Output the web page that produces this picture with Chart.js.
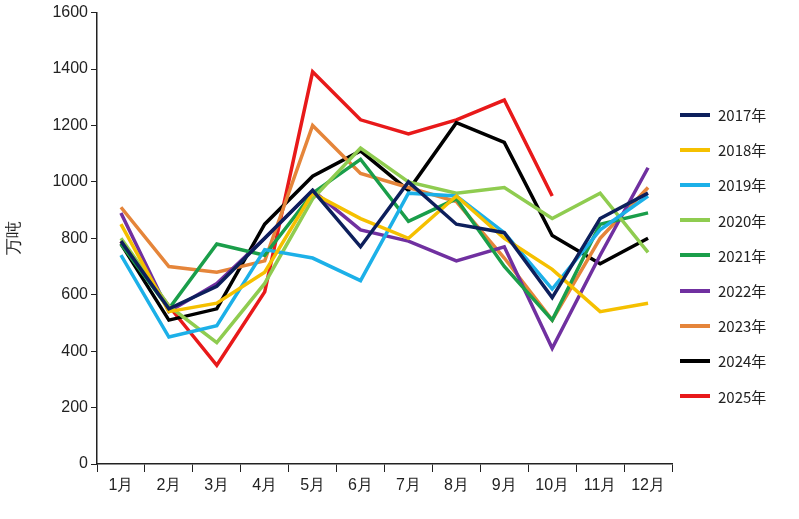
<!DOCTYPE html>
<html><head><meta charset="utf-8">
<script src="https://cdn.jsdelivr.net/npm/chart.js@4/dist/chart.umd.min.js"></script>
<style>
body{margin:0;background:#fff;font-family:"Noto Sans CJK SC",sans-serif}
#wrap{position:relative;width:799px;height:519px}
#legend{position:absolute;left:680px;top:97px;font-size:15px;color:#222}
#legend div{height:35.2px;display:flex;align-items:center}
#legend span{display:inline-block;width:30px;height:4px;margin-right:8px}
</style></head><body>
<div id="wrap"><canvas id="c" width="799" height="519"></canvas><div id="legend"></div></div>
<script>
const months = ['1月','2月','3月','4月','5月','6月','7月','8月','9月','10月','11月','12月']
const years = ['2017年','2018年','2019年','2020年','2021年','2022年','2023年','2024年','2025年']
const colors = ['#0d1f5c','#f5c000','#1cb0e8','#8fcc50','#1a9e4a','#7030a0','#e5853a','#000000','#e8191a']
const v2017 = [790,550,630,800,970,770,1000,850,820,590,870,960]
const v2018 = [850,540,570,680,960,870,800,950,800,690,540,570]
const v2019 = [740,450,490,760,730,650,960,950,820,620,830,950]
const v2020 = [800,560,430,640,940,1120,1000,960,980,870,960,750]
const v2021 = [780,550,780,740,960,1080,860,940,700,510,850,890]
const v2022 = [890,540,640,800,970,830,790,720,770,410,740,1050]
const v2023 = [910,700,680,720,1200,1030,980,930,730,510,800,980]
const v2024 = [780,510,550,850,1020,1110,970,1210,1140,810,710,800]
const v2025 = [790,560,350,610,1390,1220,1170,1220,1290,950]
const series = [v2017,v2018,v2019,v2020,v2021,v2022,v2023,v2024,v2025]

const lg = document.getElementById('legend')
years.forEach((y, i) => {
    const d = document.createElement('div')
    d.innerHTML = `<span style="background:${colors[i]}"></span>${y}`
    lg.appendChild(d)
})

new Chart(document.getElementById('c'), {
    type: 'line',
    data: {
        labels: months,
        datasets: series.map((s, i) => ({
            label: years[i], data: s, borderColor: colors[i], borderWidth: 3.5,
            pointRadius: 0, tension: 0, fill: false
        }))
    },
    options: {
        responsive: false, animation: false,
        layout: { padding: { left: 0, right: 127, top: 9, bottom: 0 } },
        plugins: { legend: { display: false }, tooltip: { enabled: false } },
        scales: {
            x: {
                offset: true,
                grid: { display: true, drawOnChartArea: false, offset: true, tickLength: 8, color: '#222' },
                border: { color: '#222', width: 1.5 },
                ticks: { color: '#222', font: { size: 16 }, maxRotation: 0, padding: 4 },
                afterFit: s => { s.height = 55 }
            },
            y: {
                min: 0, max: 1600,
                grid: { display: true, drawOnChartArea: false, tickLength: 6, color: '#222' },
                border: { color: '#222', width: 1.5 },
                ticks: { stepSize: 200, color: '#222', font: { size: 16 }, callback: v => v },
                title: { display: true, text: '万吨', color: '#222', font: { size: 17 } },
                afterFit: s => { s.width = 97 }
            }
        }
    }
})
</script></body></html>
